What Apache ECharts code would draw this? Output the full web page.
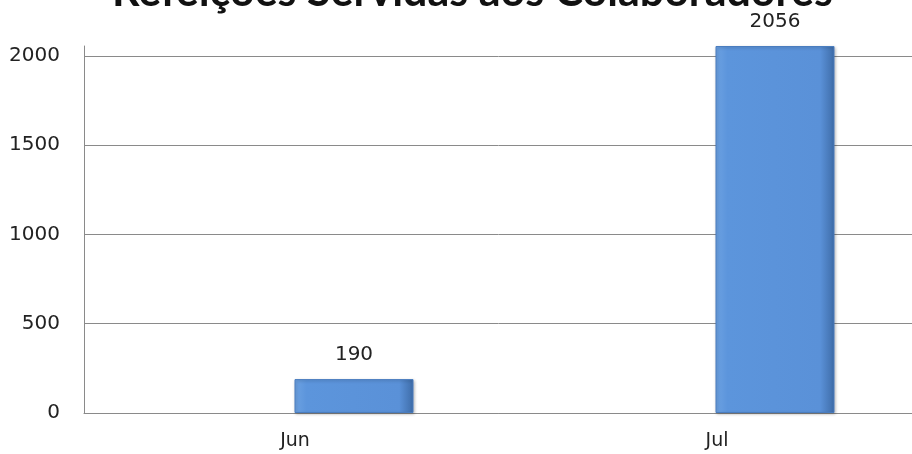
<!DOCTYPE html>
<html>
<head>
<meta charset="utf-8">
<script src="https://cdn.jsdelivr.net/npm/echarts@6/dist/echarts.min.js"></script>
<style>
  html, body { margin: 0; padding: 0; background: #fff; }
  #chart { width: 912px; height: 454px; }
</style>
</head>
<body>
<div id="chart"></div>
<script>
const months = ["Jun", "Jul"];
const meals = [190, 2056];
const yTicks = [0, 500, 1000, 1500, 2000];

const chart = echarts.init(document.getElementById("chart"));

const yMax = 2056;
const gray = "#8a8a8a";
const labelFont = "DejaVu Sans";

const barColor = new echarts.graphic.LinearGradient(0, 0, 1, 0, [
  { offset: 0, color: "#6da2e2" },
  { offset: 0.1, color: "#5c95dc" },
  { offset: 0.88, color: "#5a91d8" },
  { offset: 1, color: "#3e6ca8" },
]);

const option = {
  animation: false,
  backgroundColor: "#fff",
  title: {
    text: "Refeições Servidas aos Colaboradores",
    left: 107,
    top: -34,
    textStyle: {
      fontFamily: "Lato",
      fontWeight: "bold",
      fontSize: 43,
      color: "#111",
    },
  },
  grid: [
    // frame: axes, gridlines, month labels
    { left: 84, width: 844, top: 46, bottom: 41, outerBoundsMode: "none" },
    // bars (plot runs past the right edge, as in the cropped original)
    { left: 143.5, width: 842, top: 46, bottom: 41, outerBoundsMode: "none" },
  ],
  xAxis: [
    {
      type: "category",
      gridIndex: 0,
      data: months,
      axisLine: { lineStyle: { color: gray, width: 1 } },
      axisTick: { show: false },
      axisLabel: {
        margin: 19,
        fontFamily: labelFont,
        fontSize: 19,
        color: "#222",
      },
    },
    {
      type: "category",
      gridIndex: 1,
      data: months,
      show: false,
    },
  ],
  yAxis: [
    {
      type: "value",
      gridIndex: 0,
      min: 0,
      max: yMax,
      interval: 500,
      axisLine: { show: true, lineStyle: { color: gray, width: 1 } },
      axisTick: { show: false },
      axisLabel: {
        margin: 24,
        fontFamily: labelFont,
        fontSize: 20,
        color: "#222",
        formatter: (v) => (yTicks.includes(v) ? String(v) : ""),
      },
      splitLine: {
        lineStyle: {
          color: [gray, gray, gray, gray, gray, "rgba(0,0,0,0)"],
          width: 1,
        },
      },
    },
    {
      type: "value",
      gridIndex: 1,
      min: 0,
      max: yMax,
      show: false,
      splitLine: { show: false },
    },
  ],
  series: [
    {
      type: "bar",
      xAxisIndex: 1,
      yAxisIndex: 1,
      data: meals,
      barWidth: 119,
      itemStyle: {
        color: barColor,
        borderColor: "#4a7dbf",
        borderWidth: 1,
        shadowColor: "rgba(0,0,0,0.25)",
        shadowBlur: 3,
        shadowOffsetX: 1,
        shadowOffsetY: 1,
      },
      label: {
        show: true,
        position: "top",
        distance: 14,
        fontFamily: labelFont,
        fontSize: 20,
        color: "#222",
      },
    },
  ],
};

chart.setOption(option);
</script>
</body>
</html>
